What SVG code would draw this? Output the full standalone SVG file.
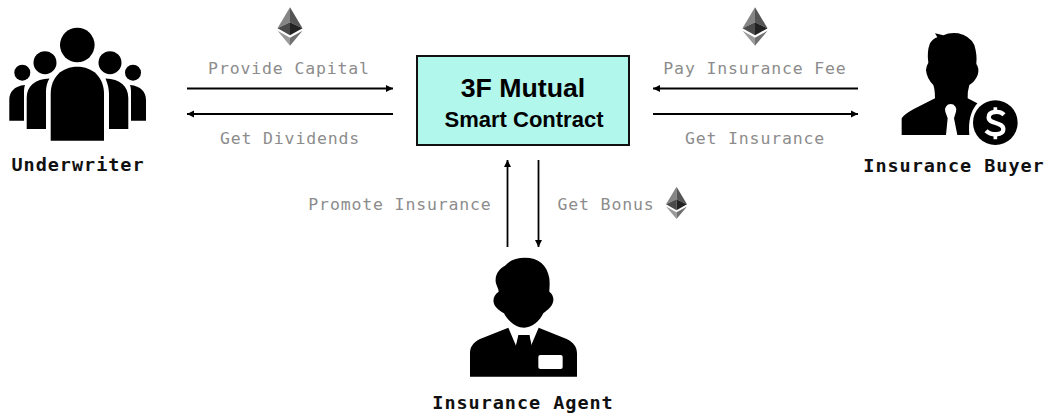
<svg xmlns="http://www.w3.org/2000/svg" xmlns:xlink="http://www.w3.org/1999/xlink" width="1046" height="416" viewBox="0 0 1046 416">
<style>
.lbl{font-family:"DejaVu Sans Mono","Liberation Mono",monospace;font-size:16.500px;fill:#8c8c8c;text-anchor:middle;letter-spacing:.85px}
.name{font-family:"DejaVu Sans Mono","Liberation Mono",monospace;font-size:18.500px;font-weight:700;fill:#111;text-anchor:middle;letter-spacing:.95px}
.title{font-family:"Liberation Sans",Arial,sans-serif;font-weight:700;fill:#000;text-anchor:middle}
.c{stroke:#000;stroke-width:1.8;fill:none;marker-end:url(#a)}
</style>
<defs>
<marker id="a" viewBox="0 0 8 8" refX="7" refY="4" markerWidth="8" markerHeight="8" markerUnits="userSpaceOnUse" orient="auto"><path d="M0 .5L7 4L0 7.5z" fill="#000"/></marker>
<g id="eth">
<path d="M0 0L-12.500 21L0 15z" fill="#858585"/>
<path d="M0 0L12.500 21L0 15z" fill="#555"/>
<path d="M-12.500 21L0 15V28z" fill="#4a4a4a"/>
<path d="M12.500 21L0 15V28z" fill="#222"/>
<path d="M-12.500 23.500L0 30.500V38.500z" fill="#9a9a9a"/>
<path d="M12.500 23.500L0 30.500V38.500z" fill="#707070"/>
</g>
</defs>
<rect width="1046" height="416" fill="#fff"/>
<g id="connectors">
<path class="c" d="M187 88.500H393"/>
<path class="c" d="M393 114H187"/>
<path class="c" d="M858 88.500H653"/>
<path class="c" d="M653 114H858"/>
<path class="c" d="M507.500 247V160"/>
<path class="c" d="M538.500 160V247"/>
</g>
<g id="labels">
<text class="lbl" x="289" y="73.500">Provide Capital</text>
<text class="lbl" x="290" y="143.500">Get Dividends</text>
<text class="lbl" x="755" y="73.500">Pay Insurance Fee</text>
<text class="lbl" x="755" y="143.500">Get Insurance</text>
<text class="lbl" x="400" y="209.500">Promote Insurance</text>
<text class="lbl" x="606" y="209.500">Get Bonus</text>
<use xlink:href="#eth" href="#eth" transform="translate(290 7.300)"/>
<use xlink:href="#eth" href="#eth" transform="translate(755 7.300)"/>
<use xlink:href="#eth" href="#eth" transform="translate(676.500 186.700) scale(.84)"/>
</g>
<g id="contract">
<rect x="417" y="56" width="212" height="89" fill="#b2f7ec" stroke="#111" stroke-width="2"/>
<text class="title" x="523" y="97" font-size="26.700">3F Mutual</text>
<text class="title" x="524" y="127" font-size="22">Smart Contract</text>
</g>
<g id="underwriter">
<circle cx="77.300" cy="45" r="17.300"/>
<path d="M50.700 140.700V94C50.700 77 62 66.700 77.300 66.700S104 77 104 94V140.700z"/>
<circle cx="45" cy="62.700" r="11.500"/><circle cx="110" cy="62.700" r="11.500"/>
<path d="M26.700 129V98C26.700 86 35 79 49.500 78.500C46 84 46 90 46 94V129z"/>
<path d="M128.300 129V98C128.300 86 120 79 105.500 78.500C108 84 109 90 109 94V129z"/>
<circle cx="22.300" cy="72.700" r="8"/><circle cx="133" cy="72.700" r="8"/>
<path d="M9.300 120.700V100C9.300 92 14 86 25 85C24 88 24 90 24 94V120.700z"/>
<path d="M146 120.700V100C146 92 141 86 130 85C131 88 131 90 131 94V120.700z"/>
<text class="name" x="78" y="171">Underwriter</text>
</g>
<g id="buyer">
<g transform="translate(880 20) scale(.33333)">
<path d="M165 40L190 46Q210 36 235 40Q270 48 283 75Q292 105 289 132Q299 145 293 165Q285 185 268 195Q262 215 263 235L292 250Q262 285 268 345H232L222 295L228 275A17 17 0 1 0 196 275L203 295L198 345H65V295Q70 285 100 268L165 235Q165 210 160 195Q140 175 138 150Q140 135 145 128Q140 95 150 70Q160 55 172 52z"/>
<circle cx="346" cy="308" r="67"/>
<path d="M372 284C360 272 326 272 326 292C326 314 370 304 370 328C370 348 332 346 318 332" fill="none" stroke="#fff" stroke-width="13"/>
<path d="M346 262V278M346 342V358" stroke="#fff" stroke-width="11" fill="none"/>
</g>
<text class="name" x="954" y="172">Insurance Buyer</text>
</g>
<g id="agent">
<g transform="translate(430 245) scale(.33333)">
<path d="M285 38C325 38 352 60 358 100C360 120 358 130 358 140C372 150 375 170 362 185C350 198 345 200 340 205C328 230 305 248 283 248C260 248 235 230 222 205C215 200 205 195 197 185C185 170 190 150 206 140C206 130 200 125 197 110C195 85 210 70 225 62C240 45 260 38 285 38z"/>
<path d="M120 395V325C120 305 130 292 150 282L235 248L258 302L265 270H298L303 302L326 248L410 282C430 292 441 305 441 325V395z"/>
<path d="M258 302L268 270H298L305 302L298 345H265z"/>
<rect x="325" y="330" width="73" height="42" rx="6" fill="#fff"/>
</g>
<text class="name" x="523" y="409">Insurance Agent</text>
</g>
</svg>
